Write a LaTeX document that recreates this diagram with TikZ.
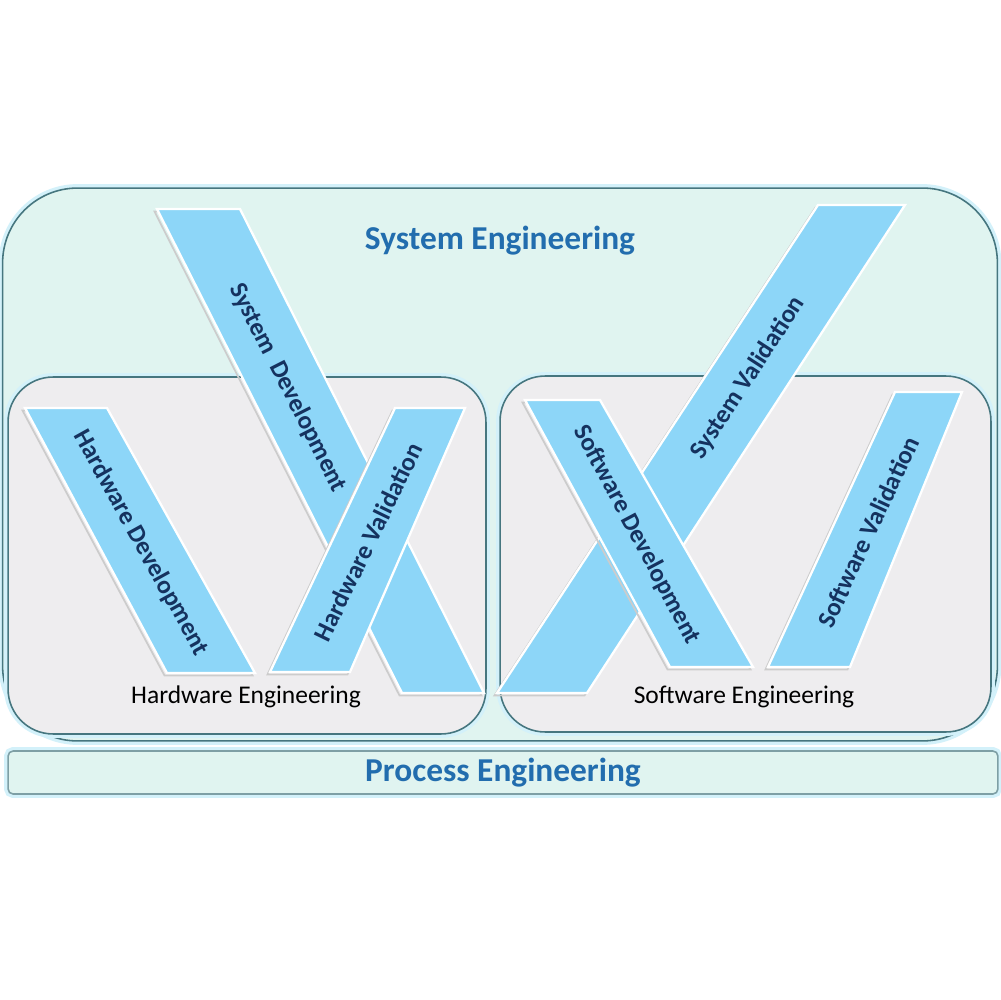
\documentclass[tikz,border=0pt]{standalone}
\usepackage{fontspec}
\setmainfont{Carlito}
\usetikzlibrary{positioning}
\definecolor{stripeblue}{HTML}{8DD6F8}
\definecolor{titleblue}{HTML}{226DAE}
\definecolor{labelnavy}{HTML}{15325F}
\definecolor{outerfill}{HTML}{E0F4F0}
\definecolor{innerfill}{HTML}{EEEDEF}
\definecolor{boxedge}{HTML}{46767F}
\definecolor{glowcyan}{HTML}{D3F1FA}

\begin{document}
\begin{tikzpicture}[x=0.02cm,y=-0.02cm,semithick]
    \tikzstyle{every node}=[font=\fontsize{14.5}{17}\selectfont]
    \tikzstyle{area}=[preaction={draw=glowcyan,line width=4.5pt},draw=boxedge,line width=0.9pt,rounded corners=0.9cm,inner sep=0pt]
    \tikzstyle{stripe}=[preaction={draw=black!20,line width=1pt,transform canvas={xshift=-0.05cm,yshift=-0.05cm}},fill=stripeblue,draw=white,line width=1.3pt]
    \tikzstyle{title}=[font=\fontsize{19}{23}\selectfont\bfseries,text=titleblue]
    \tikzstyle{phase}=[font=\fontsize{14.5}{17}\selectfont\bfseries,text=labelnavy]
    \useasboundingbox (0,0) rectangle (1000,1000);
    \fill[white] (0,0) rectangle (1000,1000);

    \node[area,fill=outerfill,rounded corners=1.5cm,minimum width=19.9cm,minimum height=11.06cm] (syseng) at (500,464.5) {};
    \node[area,fill=outerfill,draw=boxedge!70,rounded corners=0.1cm,minimum width=19.8cm,minimum height=0.86cm] (proceng) at (503,772.5) {};
    \node[area,fill=innerfill,minimum width=9.56cm,minimum height=7.14cm] (hweng) at (247,555.5) {};
    \node[area,fill=innerfill,minimum width=9.82cm,minimum height=7.12cm] (sweng) at (745.5,554) {};

    \draw[stripe] (157,209) -- (240,209) -- (484,693) -- (402,693) -- cycle;
    \draw[stripe] (25,408) -- (107,408) -- (255,673) -- (167,673) -- cycle;
    \draw[stripe] (270,672) -- (350,672) -- (465,408) -- (395,408) -- cycle;
    \draw[stripe] (497,693) -- (587,693) -- (905,205) -- (818,205) -- cycle;
    \draw[stripe] (525,400) -- (600,400) -- (753,667) -- (670,667) -- cycle;
    \draw[stripe] (768,667) -- (850,667) -- (962,392) -- (895,392) -- cycle;

    \node[phase,rotate=-63] (sysdev) at (288,388) {System~ Development};
    \node[phase,rotate=-61] (hwdev) at (141,543) {Hardware Development};
    \node[phase,rotate=64] (hwval) at (368,542) {Hardware Validation};
    \node[phase,rotate=57] (sysval) at (748,378) {System Validation};
    \node[phase,rotate=-62] (swdev) at (637,535) {Software Development};
    \node[phase,rotate=65] (swval) at (868,532) {Software Validation};

    \node[title] (setitle) at (500,241) {System Engineering};
    \node[title] (petitle) at (proceng) {Process Engineering};
    \node (hwtitle) at (246,697) {Hardware Engineering};
    \node (swtitle) at (744,697) {Software Engineering};
\end{tikzpicture}
\end{document}
